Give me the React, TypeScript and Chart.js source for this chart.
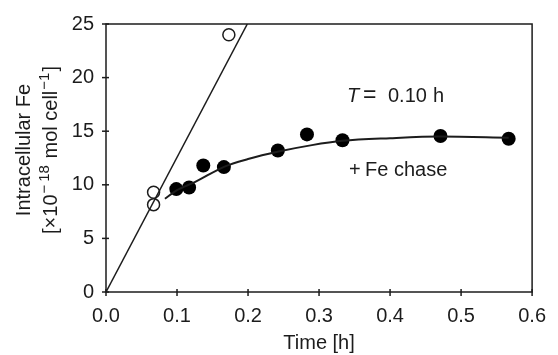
import React, { useEffect, useRef } from "react";
import { Chart, registerables } from "chart.js";

Chart.register(...registerables);

// Open circles (uptake) and the straight uptake line
const openX = [0.067, 0.067, 0.173];
const openY = [9.3, 8.15, 24.0];
const uptakeLineX = [0, 0.199];
const uptakeLineY = [0, 25];

// Filled circles (+Fe chase)
const chaseX = [0.099, 0.117, 0.137, 0.166, 0.242, 0.283, 0.333, 0.471, 0.567];
const chaseY = [9.6, 9.75, 11.8, 11.65, 13.2, 14.7, 14.15, 14.55, 14.3];

// Fitted curve through the chase points
const curveX = [0.083, 0.1, 0.125, 0.167, 0.2, 0.243, 0.29, 0.333, 0.4, 0.471, 0.567];
const curveY = [8.7, 9.5, 10.25, 11.7, 12.4, 13.1, 13.7, 14.1, 14.35, 14.5, 14.4];

const xTicks = [0, 0.1, 0.2, 0.3, 0.4, 0.5, 0.6];
const yTicks = [0, 5, 10, 15, 20, 25];

const FONT = "'Liberation Sans', Arial, sans-serif";
const INK = "#1c1c1c";

const zip = (xs: number[], ys: number[]) => xs.map((x, i) => ({ x, y: ys[i] }));

const decorPlugin = {
  id: "decor",
  afterDraw(chart: any) {
    const { ctx, chartArea } = chart;
    const { left, right, top, bottom } = chartArea;
    const xs = chart.scales.x;
    const ys = chart.scales.y;
    ctx.save();
    ctx.strokeStyle = INK;
    ctx.lineWidth = 1.5;
    ctx.strokeRect(left, top, right - left, bottom - top);
    xTicks.forEach((v) => {
      const px = xs.getPixelForValue(v);
      ctx.beginPath();
      ctx.moveTo(px, bottom - 3);
      ctx.lineTo(px, bottom + 4);
      ctx.stroke();
    });
    yTicks.forEach((v) => {
      const py = ys.getPixelForValue(v);
      ctx.beginPath();
      ctx.moveTo(left - 4, py);
      ctx.lineTo(left + 3, py);
      ctx.stroke();
    });

    // Annotations
    ctx.fillStyle = INK;
    ctx.textBaseline = "alphabetic";
    ctx.textAlign = "left";
    ctx.font = `italic 20px ${FONT}`;
    ctx.fillText("T", 347, 102);
    ctx.font = `23px ${FONT}`;
    ctx.fillText("=", 363, 102);
    ctx.font = `20px ${FONT}`;
    ctx.fillText("0.10", 388, 102);
    ctx.fillText("h", 433, 102);
    ctx.fillText("+", 349, 176);
    ctx.fillText("Fe chase", 365, 176);

    // Y-axis title (rotated, two lines, with superscripts)
    const cy = 150;
    ctx.save();
    ctx.translate(30, cy);
    ctx.rotate(-Math.PI / 2);
    ctx.textAlign = "center";
    ctx.font = `20px ${FONT}`;
    ctx.fillText("Intracellular Fe", 0, 0);
    ctx.restore();

    ctx.save();
    ctx.translate(57, cy);
    ctx.rotate(-Math.PI / 2);
    ctx.textAlign = "left";
    const main = `20px ${FONT}`;
    const sup = `15px ${FONT}`;
    const parts: [string, boolean][] = [
      ["[\u00d710", false],
      ["\u2212\u200918", true],
      [" mol cell", false],
      ["\u22121", true],
      ["]", false],
    ];
    let total = 0;
    parts.forEach(([t, s]) => {
      ctx.font = s ? sup : main;
      total += ctx.measureText(t).width + (s ? 2 : 0);
    });
    let x0 = -total / 2;
    parts.forEach(([t, s]) => {
      ctx.font = s ? sup : main;
      ctx.fillText(t, x0 + (s ? 1 : 0), s ? -8 : 0);
      x0 += ctx.measureText(t).width + (s ? 2 : 0);
    });
    ctx.restore();

    ctx.restore();
  },
};

export default function App() {
  const ref = useRef<HTMLCanvasElement>(null);
  useEffect(() => {
    if (!ref.current) return;
    const chart = new Chart(ref.current, {
      type: "scatter",
      data: {
        datasets: [
          {
            type: "line",
            data: zip(uptakeLineX, uptakeLineY),
            borderColor: INK,
            borderWidth: 1.5,
            pointRadius: 0,
            fill: false,
          },
          {
            type: "line",
            data: zip(curveX, curveY),
            borderColor: INK,
            borderWidth: 2,
            pointRadius: 0,
            cubicInterpolationMode: "monotone",
            fill: false,
          },
          {
            data: zip(openX, openY),
            pointRadius: 6,
            pointBorderWidth: 1.5,
            borderColor: INK,
            backgroundColor: "#ffffff",
          },
          {
            data: zip(chaseX, chaseY),
            pointRadius: 7,
            pointBorderWidth: 0,
            borderColor: "#000",
            backgroundColor: "#000",
          },
        ] as any,
      },
      options: {
        responsive: false,
        animation: false,
        layout: { padding: { top: 20, right: 15, left: 0, bottom: 0 } },
        plugins: { legend: { display: false }, tooltip: { enabled: false } },
        scales: {
          x: {
            type: "linear",
            min: 0,
            max: 0.6,
            afterFit: (s: any) => {
              s.height = 63;
            },
            afterBuildTicks: (s: any) => {
              s.ticks = xTicks.map((v) => ({ value: v }));
            },
            grid: { display: false, drawTicks: false },
            border: { display: false },
            ticks: {
              padding: 12,
              color: INK,
              font: { family: FONT, size: 20 },
              callback: (v: any) => Number(v).toFixed(1),
            },
            title: {
              display: true,
              text: "Time [h]",
              color: INK,
              font: { family: FONT, size: 20 },
              padding: { top: 4, bottom: 0 },
            },
          },
          y: {
            type: "linear",
            min: 0,
            max: 25,
            afterFit: (s: any) => {
              s.width = 106;
            },
            afterBuildTicks: (s: any) => {
              s.ticks = yTicks.map((v) => ({ value: v }));
            },
            grid: { display: false, drawTicks: false },
            border: { display: false },
            ticks: {
              padding: 12,
              color: INK,
              font: { family: FONT, size: 20 },
            },
          },
        },
      },
      plugins: [decorPlugin],
    });
    return () => chart.destroy();
  }, []);
  return (
    <div style={{ position: "absolute", left: 0, top: 0, width: 558, height: 355, background: "#fff" }}>
      <canvas ref={ref} width={558} height={355} />
    </div>
  );
}
